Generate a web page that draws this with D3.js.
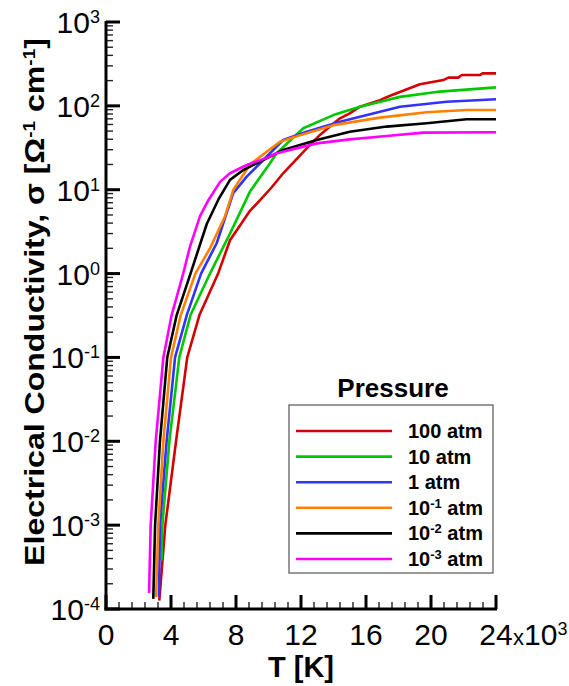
<html>
<head>
<meta charset="utf-8" />
<title>Electrical Conductivity vs T</title>
<script src="https://d3js.org/d3.v7.min.js"></script>
<style>
    body { margin: 0px; background: #fff; }
    text { font-family: "Liberation Sans", Arial, sans-serif; fill: #000; }
</style>
</head>
<body>
<script type="text/javascript">
// values: T in 10^3 K, sigma in 1/(ohm cm)
var p100 = [[3.28,1.26e-4],[3.65,1e-3],[4.31,1e-2],[5.0,0.1],[5.75,0.32],[6.9,1.0],[7.63,2.5],[8.86,5.6],[9.48,7.5],[10.2,10.7],[10.9,15.7],[12.35,31.2],[13.17,45],[13.78,56.6],[14.4,71],[15.0,81.5],[15.63,97.7],[16.86,117],[17.48,132],[19.32,181],[20.76,203],[21.07,217],[21.68,217],[21.89,233],[23.0,233],[23.17,244],[24,244]];
var p10 = [[3.42,3.8e-4],[3.47,1e-3],[3.9,1e-2],[4.51,0.1],[5.2,0.32],[6.4,1.0],[7.63,3.0],[8.86,9.5],[10.09,20.7],[10.5,27.2],[12.14,54],[13.99,77.6],[15.63,97.7],[18.09,128],[20.55,148],[24,166]];
var p1 = [[3.26,1.41e-4],[3.32,1e-3],[3.73,1e-2],[4.25,0.1],[4.97,0.32],[5.85,1.0],[6.81,2.3],[7.83,9.1],[8.66,14.3],[9.68,22.6],[10.9,39.2],[12.35,49.0],[14.4,64.6],[16.86,85.1],[18.09,97.7],[20.96,112],[24,120]];
var p01 = [[3.08,1.38e-4],[3.22,1e-3],[3.53,1e-2],[4.0,0.1],[4.6,0.32],[5.5,1.0],[6.4,2.0],[7.32,4.8],[7.84,10],[8.86,20],[9.89,28.4],[10.71,37.4],[11.94,44.7],[13.99,58.9],[16.86,72.4],[19.73,83.8],[22.19,89.1],[24,89.1]];
var p001 = [[2.91,1.32e-4],[3.02,1e-3],[3.32,1e-2],[3.77,0.1],[4.35,0.32],[5.2,1.0],[6.2,3.9],[6.91,7.6],[7.63,13.1],[8.45,17.2],[9.68,22.6],[10.9,29.8],[12.97,39.2],[15.0,49.0],[17.27,56.6],[19.73,62.0],[22.19,69.2],[24,69.2]];
var p0001 = [[2.65,1.55e-4],[2.75,1e-3],[3.06,1e-2],[3.53,0.1],[4.04,0.32],[4.75,1.0],[5.17,2.1],[5.78,4.8],[6.3,7.5],[7.02,12.4],[7.63,15.7],[8.66,19.7],[10.1,24.8],[10.5,27.2],[12.97,35.7],[15.0,39.8],[17.27,43.7],[19.53,47.9],[24,48.4]];

var seriesData = [p100, p10, p1, p01, p001, p0001];
var seriesColors = ["#d40000", "#00c800", "#3232ff", "#ff8000", "#000000", "#ff00ff"];
var legendBase = ["100", "10", "1", "10", "10", "10"];
var legendExp = [null, null, null, "-1", "-2", "-3"];

var tempTicks = [0, 4, 8, 12, 16, 20, 24];
var decadeExps = [-4, -3, -2, -1, 0, 1, 2, 3];

var width = 569, height = 686;
var plot = {left: 106, right: 496, top: 22, bottom: 609};

var svg = d3.select("body").append("svg")
    .attr("width", width)
    .attr("height", height);

var x = d3.scaleLinear().domain([0, 24]).range([plot.left, plot.right]);
var y = d3.scaleLog().domain([1e-4, 1e3]).range([plot.bottom, plot.top]);

// curves
var line = d3.line()
    .x(d => x(d[0]))
    .y(d => y(d[1]));

svg.append("g")
    .selectAll("path")
    .data(seriesData)
    .enter()
    .append("path")
        .attr("d", d => line(d))
        .attr("fill", "none")
        .attr("stroke", (d, i) => seriesColors[i])
        .attr("stroke-width", 2.6)
        .attr("stroke-linejoin", "round");

// y axis (log, ticks pointing inward)
var yMinor = [];
decadeExps.slice(0, -1).forEach(e => {
    for (var k = 2; k <= 9; k++) yMinor.push(k * Math.pow(10, e));
});
var yAxis = svg.append("g");
yAxis.selectAll("line.minor")
    .data(yMinor)
    .enter()
    .append("line")
        .attr("x1", plot.left).attr("x2", plot.left + 7)
        .attr("y1", d => y(d)).attr("y2", d => y(d))
        .attr("stroke", "#222").attr("stroke-width", 1.4);
yAxis.selectAll("line.major")
    .data(decadeExps)
    .enter()
    .append("line")
        .attr("x1", plot.left).attr("x2", plot.left + 14)
        .attr("y1", d => y(Math.pow(10, d))).attr("y2", d => y(Math.pow(10, d)))
        .attr("stroke", "#000").attr("stroke-width", 3);
var yLab = yAxis.selectAll("text")
    .data(decadeExps)
    .enter()
    .append("text")
        .attr("x", plot.left - 6)
        .attr("y", d => y(Math.pow(10, d)) + 11)
        .attr("text-anchor", "end")
        .style("font-size", "30px");
yLab.append("tspan").text("10");
yLab.append("tspan")
    .attr("dy", -10)
    .style("font-size", "18px")
    .text(d => d < 0 ? "-" + (-d) : d);

// x axis
var xMinor = d3.range(0, 24.01, 0.8);
var xAxis = svg.append("g");
xAxis.selectAll("line.minor")
    .data(xMinor)
    .enter()
    .append("line")
        .attr("x1", d => x(d)).attr("x2", d => x(d))
        .attr("y1", plot.bottom).attr("y2", plot.bottom - 7)
        .attr("stroke", "#222").attr("stroke-width", 1.4);
xAxis.selectAll("line.major")
    .data(tempTicks)
    .enter()
    .append("line")
        .attr("x1", d => x(d)).attr("x2", d => x(d))
        .attr("y1", plot.bottom).attr("y2", plot.bottom - 14)
        .attr("stroke", "#000").attr("stroke-width", 3);
xAxis.selectAll("text")
    .data(tempTicks)
    .enter()
    .append("text")
        .attr("x", d => x(d))
        .attr("y", plot.bottom + 36)
        .attr("text-anchor", "middle")
        .style("font-size", "30px")
        .text(d => d);
var mult = xAxis.append("text")
    .attr("x", x(24) + 17)
    .attr("y", plot.bottom + 36)
    .style("font-size", "30px");
mult.append("tspan").style("font-size", "22px").text("x");
mult.append("tspan").text("10");
mult.append("tspan").attr("dy", -10).style("font-size", "18px").text("3");

// axis lines
svg.append("line")
    .attr("x1", plot.left).attr("x2", plot.left)
    .attr("y1", plot.top - 1).attr("y2", plot.bottom + 1.5)
    .attr("stroke", "#000").attr("stroke-width", 3);
svg.append("line")
    .attr("x1", plot.left - 1.5).attr("x2", plot.right + 1)
    .attr("y1", plot.bottom).attr("y2", plot.bottom)
    .attr("stroke", "#000").attr("stroke-width", 3);

// axis titles
svg.append("text")
    .attr("x", (plot.left + plot.right) / 2)
    .attr("y", 677)
    .attr("text-anchor", "middle")
    .style("font-size", "29px")
    .style("font-weight", "bold")
    .text("T [K]");

var yTitle = svg.append("text")
    .attr("text-anchor", "middle")
    .style("font-size", "27px")
    .style("font-weight", "bold");
yTitle.append("tspan").text("Electrical Conductivity, \u03c3 [\u03a9");
yTitle.append("tspan").attr("dy", -9).style("font-size", "16px").text("-1");
yTitle.append("tspan").attr("dy", 9).text(" cm");
yTitle.append("tspan").attr("dy", -9).style("font-size", "16px").text("-1");
yTitle.append("tspan").attr("dy", 9).text("]");
// the original title runs longer along the axis than this font does
var titleLen = yTitle.node().getBBox().width;
yTitle.attr("transform", "translate(44,302) rotate(-90) scale(" + (528 / titleLen) + ",1)");

// legend
var leg = {x: 289, y: 405, w: 204, h: 168, row: 25.6};
svg.append("text")
    .attr("x", 393)
    .attr("y", 397)
    .attr("text-anchor", "middle")
    .style("font-size", "26px")
    .style("font-weight", "bold")
    .text("Pressure");
svg.append("rect")
    .attr("x", leg.x).attr("y", leg.y)
    .attr("width", leg.w).attr("height", leg.h)
    .attr("fill", "#fff")
    .attr("stroke", "#555").attr("stroke-width", 1.2);
var items = svg.append("g")
    .selectAll("g")
    .data(seriesColors)
    .enter()
    .append("g")
        .attr("transform", (d, i) => "translate(0," + (leg.y + 26 + i * leg.row) + ")");
items.append("line")
    .attr("x1", 296).attr("x2", 392)
    .attr("stroke", d => d)
    .attr("stroke-width", 2.6);
var itemText = items.append("text")
    .attr("x", 408)
    .attr("y", 7)
    .style("font-size", "20px")
    .style("font-weight", "bold");
itemText.append("tspan").text((d, i) => legendBase[i]);
itemText.append("tspan")
    .attr("dy", -7)
    .style("font-size", "13px")
    .text((d, i) => legendExp[i] || "");
itemText.append("tspan")
    .attr("dy", (d, i) => legendExp[i] ? 7 : 0)
    .text(" atm");
</script>
</body>
</html>
